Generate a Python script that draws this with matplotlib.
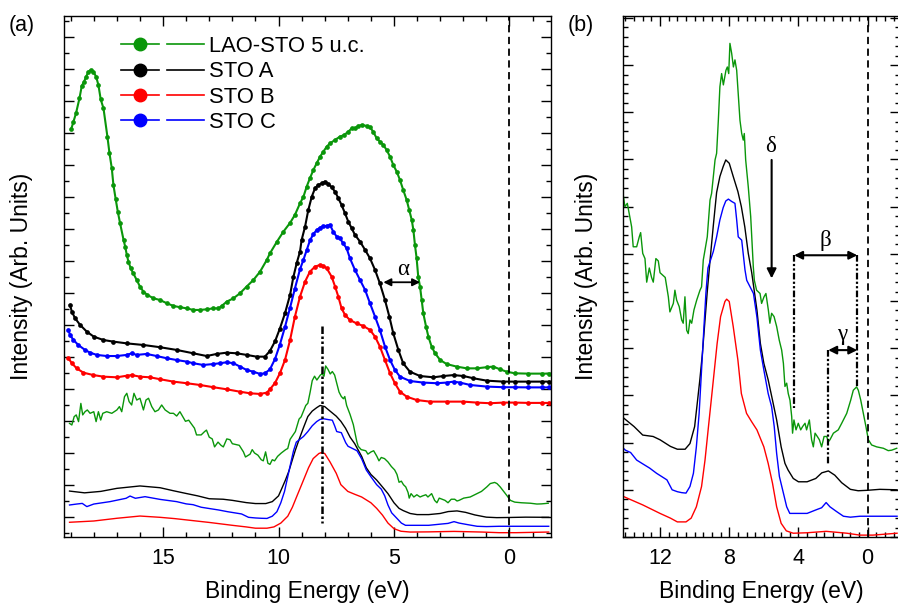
import matplotlib
matplotlib.use("Agg")
import matplotlib.pyplot as plt
import numpy as np
from matplotlib.lines import Line2D
from matplotlib.legend_handler import HandlerTuple
from matplotlib.ticker import MultipleLocator, NullFormatter

plt.rcParams['font.family'] = ['Liberation Sans', 'DejaVu Sans']
plt.rcParams['font.size'] = 15

GREEN = '#0a960a'
COLORS = [GREEN, 'black', 'red', 'blue']
NAMES = ['LAO-STO 5 u.c.', 'STO A', 'STO B', 'STO C']

# ---- upper spectra of panel (a), drawn with markers ----
e_top_lao = [18.98, 18.88, 18.77, 18.62, 18.52, 18.42, 18.33, 18.23, 18.13, 18.02, 17.90, 17.80,
             17.70, 17.58, 17.41, 17.32, 17.22, 17.15, 17.05, 16.96, 16.86, 16.71, 16.64, 16.57,
             16.50, 16.40, 16.29, 16.14, 16.00, 15.85, 15.68, 15.42, 15.13, 14.84, 14.55, 14.27,
             13.98, 13.69, 13.40, 13.11, 12.82, 12.60, 12.46, 12.24, 11.95, 11.67, 11.38, 11.09,
             10.80, 10.51, 10.37, 10.08, 9.79, 9.50, 9.29, 9.07, 8.92, 8.78, 8.64, 8.49, 8.35,
             8.20, 8.06, 7.91, 7.77, 7.56, 7.34, 7.16, 6.98, 6.83, 6.69, 6.54, 6.40, 6.18, 6.04,
             5.90, 5.75, 5.61, 5.46, 5.32, 5.17, 5.03, 4.88, 4.74, 4.60, 4.45, 4.34, 4.23, 4.16,
             4.09, 4.02, 3.95, 3.87, 3.80, 3.73, 3.61, 3.51, 3.37, 3.22, 3.00, 2.72, 2.29, 1.85,
             1.42, 0.99, 0.70, 0.41, 0.12, -0.24, -0.80, -1.40, -1.70]
top_lao = [24.25, 24.73, 25.25, 26.19, 26.96, 27.23, 27.54, 27.85, 27.96, 27.85, 27.54, 27.02,
           26.12, 25.56, 23.79, 22.75, 21.81, 20.77, 19.87, 19.10, 18.37, 17.33, 16.92, 16.40,
           15.98, 15.56, 15.25, 14.83, 14.42, 14.10, 13.90, 13.69, 13.58, 13.38, 13.21, 13.13,
           13.06, 12.96, 12.96, 13.00, 13.06, 13.06, 13.21, 13.48, 13.69, 14.00, 14.42, 14.83,
           15.35, 16.08, 16.50, 17.20, 17.85, 18.40, 18.90, 19.62, 20.04, 20.67, 21.19, 21.71,
           22.12, 22.54, 22.85, 23.17, 23.37, 23.58, 23.79, 23.89, 24.10, 24.31, 24.31, 24.46,
           24.52, 24.46, 24.38, 24.10, 23.69, 23.48, 23.27, 22.96, 22.54, 22.02, 21.60, 21.08,
           20.46, 19.83, 19.21, 18.58, 17.96, 17.00, 16.20, 15.04, 14.40, 13.58, 12.75, 11.91,
           11.29, 10.67, 10.25, 9.83, 9.58, 9.42, 9.31, 9.31, 9.38, 9.42, 9.25, 9.10, 9.00,
           8.98, 8.98, 8.98]

e_top_a = [19.03, 18.95, 18.81, 18.59, 18.30, 18.00, 17.58, 17.15, 16.57, 15.85, 15.13, 14.41,
           13.69, 13.11, 12.68, 12.24, 11.81, 11.38, 10.95, 10.59, 10.37, 10.15, 9.94, 9.72,
           9.50, 9.36, 9.21, 9.07, 9.00, 8.85, 8.71, 8.56, 8.42, 8.28, 8.13, 7.99, 7.84, 7.70,
           7.55, 7.41, 7.27, 7.12, 6.98, 6.83, 6.69, 6.47, 6.25, 6.04, 5.82, 5.61, 5.39, 5.20,
           5.03, 4.81, 4.60, 4.31, 3.87, 3.29, 2.86, 2.42, 1.99, 1.56, 0.98, 0.26, -0.24, -0.80,
           -1.40, -1.70]
top_a = [13.27, 12.85, 12.44, 12.02, 11.60, 11.29, 11.08, 10.98, 10.87, 10.77, 10.63, 10.46,
         10.25, 10.08, 10.21, 10.29, 10.25, 10.15, 10.04, 10.04, 10.40, 11.00, 11.80, 12.75,
         13.90, 15.00, 15.90, 16.60, 17.33, 18.17, 19.21, 20.04, 20.56, 20.77, 20.87, 20.98,
         20.83, 20.63, 20.35, 19.94, 19.52, 19.00, 18.48, 18.06, 17.65, 17.23, 16.71, 16.19,
         15.46, 14.62, 13.58, 12.54, 11.50, 10.46, 9.62, 9.10, 8.83, 8.75, 8.83, 8.89, 8.83,
         8.69, 8.54, 8.48, 8.48, 8.48, 8.48, 8.48]

e_top_b = [19.10, 18.95, 18.74, 18.45, 18.02, 17.58, 17.00, 16.57, 16.36, 16.00, 15.56, 15.13,
           14.55, 13.98, 13.40, 12.82, 12.24, 11.67, 11.23, 10.80, 10.51, 10.37, 10.15, 9.94,
           9.72, 9.50, 9.29, 9.07, 8.85, 8.64, 8.42, 8.20, 8.06, 7.91, 7.70, 7.55, 7.41, 7.27,
           7.12, 6.91, 6.62, 6.33, 6.04, 5.82, 5.61, 5.39, 5.17, 4.96, 4.74, 4.45, 4.02, 3.44,
           2.72, 1.99, 1.42, 0.84, 0.26, -0.24, -0.80, -1.40, -1.70]
top_b = [9.94, 9.63, 9.31, 9.04, 8.89, 8.79, 8.75, 8.85, 8.89, 8.79, 8.75, 8.63, 8.48, 8.38,
         8.27, 8.13, 8.00, 7.85, 7.75, 7.71, 7.79, 8.00, 8.40, 9.00, 9.83, 11.08, 12.54, 13.79,
         14.73, 15.35, 15.67, 15.77, 15.71, 15.56, 15.04, 14.42, 13.79, 13.06, 12.65, 12.33,
         12.12, 11.96, 11.71, 11.29, 10.67, 9.83, 9.00, 8.38, 7.85, 7.54, 7.33, 7.23, 7.23,
         7.23, 7.17, 7.13, 7.17, 7.17, 7.15, 7.15, 7.15]

e_top_c = [19.10, 19.03, 18.88, 18.67, 18.38, 18.16, 17.87, 17.44, 17.00, 16.57, 16.36, 16.14,
           15.71, 15.28, 14.84, 14.41, 13.98, 13.69, 13.26, 12.82, 12.53, 12.24, 11.95, 11.67,
           11.38, 11.09, 10.80, 10.59, 10.37, 10.15, 9.94, 9.72, 9.50, 9.29, 9.07, 8.92, 8.78,
           8.64, 8.49, 8.35, 8.20, 8.06, 7.92, 7.77, 7.63, 7.48, 7.34, 7.20, 7.05, 6.91, 6.69,
           6.47, 6.25, 6.04, 5.82, 5.61, 5.39, 5.17, 4.96, 4.74, 4.31, 3.73, 3.15, 2.72, 2.42,
           2.14, 1.70, 0.98, 0.26, -0.24, -0.80, -1.40, -1.70]
top_c = [11.71, 11.40, 11.08, 10.77, 10.46, 10.29, 10.15, 10.08, 10.08, 10.15, 10.25, 10.15,
         10.21, 10.08, 9.94, 9.83, 9.73, 9.63, 9.52, 9.58, 9.63, 9.69, 9.63, 9.42, 9.21, 9.10,
         8.96, 9.00, 9.25, 9.90, 10.80, 11.90, 13.10, 14.30, 15.50, 16.10, 16.70, 17.30, 17.70,
         17.95, 18.10, 18.20, 18.21, 18.27, 17.85, 17.54, 17.44, 17.12, 16.81, 16.20, 15.46,
         14.83, 14.21, 13.38, 12.54, 11.71, 10.67, 9.83, 9.21, 8.79, 8.52, 8.42, 8.38, 8.42,
         8.48, 8.42, 8.27, 8.17, 8.13, 8.13, 8.12, 8.12, 8.12]

# ---- valence band spectra, panel (b) units; panel (a) shows them one unit lower ----
e_low_lao = [19.05, 18.95, 18.85, 18.76, 18.66, 18.56, 18.48, 18.38, 18.28, 18.16, 18.00, 17.90,
             17.80, 17.70, 17.61, 17.44, 17.22, 17.00, 16.89, 16.79, 16.67, 16.57, 16.47, 16.36,
             16.26, 16.14, 16.00, 15.85, 15.74, 15.63, 15.49, 15.35, 15.20, 15.06, 14.91, 14.70,
             14.55, 14.41, 14.27, 14.03, 13.89, 13.64, 13.55, 13.35, 13.20, 13.12, 13.00, 12.87,
             12.77, 12.62, 12.49, 12.39, 12.24, 12.10, 12.00, 11.85, 11.70, 11.52, 11.43, 11.23,
             11.14, 11.04, 10.89, 10.75, 10.66, 10.56, 10.46, 10.37, 10.27, 10.17, 10.04, 9.88,
             9.69, 9.60, 9.50, 9.27, 9.11, 9.02, 8.82, 8.73, 8.63, 8.54, 8.44, 8.34, 8.19, 8.11,
             8.03, 7.96, 7.86, 7.76, 7.67, 7.57, 7.47, 7.38, 7.28, 7.19, 7.13, 7.05, 6.90, 6.84,
             6.76, 6.69, 6.61, 6.55, 6.42, 6.22, 6.13, 5.99, 5.88, 5.74, 5.65, 5.55, 5.41, 5.26,
             5.11, 4.97, 4.87, 4.78, 4.68, 4.59, 4.49, 4.39, 4.34, 4.26, 4.14, 4.01, 3.87, 3.76,
             3.62, 3.53, 3.37, 3.24, 3.14, 3.04, 2.91, 2.79, 2.66, 2.52, 2.37, 2.27, 2.18, 1.98,
             1.70, 1.50, 1.21, 0.98, 0.83, 0.64, 0.54, 0.40, 0.25, 0.10, -0.04, -0.23, -0.52,
             -0.91, -1.19, -1.39, -1.68]
low_lao = [6.87, 6.77, 7.29, 7.40, 6.98, 8.12, 7.40, 7.60, 7.71, 7.50, 7.60, 6.98, 7.60, 7.08,
           7.50, 7.60, 7.50, 7.71, 7.92, 7.60, 8.54, 8.75, 8.23, 8.02, 8.75, 8.33, 8.44, 7.71,
           8.33, 8.44, 7.92, 7.60, 7.71, 8.02, 7.71, 7.50, 7.50, 7.33, 7.60, 7.00, 7.07, 6.57,
           6.15, 6.15, 6.36, 6.45, 6.01, 5.90, 5.40, 5.70, 5.50, 5.40, 5.90, 5.85, 5.60, 5.55,
           5.50, 5.09, 4.77, 4.95, 5.23, 5.02, 4.88, 4.60, 4.53, 5.09, 4.38, 4.31, 4.60, 4.53,
           4.81, 5.02, 5.23, 5.30, 5.87, 6.36, 7.14, 7.28, 7.99, 8.13, 8.83, 9.54, 9.82, 9.58,
           9.89, 9.96, 9.82, 10.46, 10.25, 9.96, 10.11, 9.89, 9.33, 8.83, 8.55, 8.41, 8.55,
           7.99, 7.42, 7.14, 6.79, 6.29, 5.73, 5.44, 5.23, 5.16, 4.95, 5.09, 5.16, 4.81, 4.53,
           4.74, 4.67, 4.46, 4.17, 3.96, 3.68, 3.19, 3.26, 3.04, 2.90, 2.55, 2.20, 2.48, 2.27,
           2.41, 2.27, 2.34, 2.41, 2.27, 2.48, 2.06, 1.91, 2.20, 2.13, 2.06, 1.91, 2.13, 2.13,
           2.02, 2.06, 2.20, 2.27, 2.41, 2.62, 2.90, 3.11, 3.18, 3.11, 2.90, 2.62, 2.34, 2.06,
           1.95, 1.91, 1.88, 1.83, 1.84, 1.88]

e_low_a = [19.05, 18.40, 17.70, 17.00, 16.00, 15.13, 14.55, 14.00, 13.50, 13.00, 12.40, 12.00,
           11.40, 11.00, 10.55, 10.27, 10.00, 9.85, 9.70, 9.55, 9.40, 9.27, 9.10, 8.92, 8.73,
           8.54, 8.35, 8.20, 8.00, 7.77, 7.50, 7.30, 7.10, 6.90, 6.70, 6.40, 6.20, 6.00, 5.75,
           5.50, 5.26, 5.00, 4.78, 4.60, 4.30, 4.00, 3.50, 3.00, 2.65, 2.27, 1.90, 1.50, 1.00,
           0.55, 0.00, -0.70, -1.70]
low_a = [2.64, 2.53, 2.62, 2.81, 2.96, 2.85, 2.66, 2.49, 2.34, 2.16, 2.13, 2.06, 1.92, 1.86,
         1.86, 1.98, 2.34, 2.83, 3.33, 3.89, 4.60, 5.20, 5.90, 6.60, 7.30, 7.64, 7.85, 7.99,
         7.92, 7.64, 7.32, 7.00, 6.57, 6.01, 5.60, 4.81, 4.10, 3.68, 3.33, 2.90, 2.48, 1.91,
         1.56, 1.42, 1.24, 1.17, 1.17, 1.24, 1.36, 1.40, 1.31, 1.15, 1.01, 0.98, 0.99, 1.01,
         1.00]

e_low_b = [19.05, 18.00, 17.00, 16.00, 15.13, 14.50, 14.00, 13.00, 12.00, 11.40, 11.00, 10.50,
           10.20, 9.90, 9.60, 9.40, 9.20, 9.00, 8.70, 8.50, 8.25, 8.15, 8.00, 7.77, 7.50, 7.30,
           7.00, 6.70, 6.40, 6.00, 5.75, 5.50, 5.26, 5.00, 4.70, 4.30, 3.50, 2.40, 1.20, 0.45,
           -0.30, -1.70]
low_b = [0.69, 0.77, 0.94, 1.08, 1.00, 0.92, 0.84, 0.68, 0.50, 0.40, 0.32, 0.32, 0.40, 0.64,
         1.07, 1.63, 2.34, 3.04, 4.10, 4.67, 4.99, 5.04, 4.99, 4.46, 3.75, 3.04, 2.62, 2.44,
         2.27, 1.91, 1.56, 1.14, 0.64, 0.29, 0.13, 0.08, 0.09, 0.12, 0.08, 0.04, 0.04, 0.08]

e_low_c = [19.05, 18.74, 18.50, 18.30, 18.00, 17.30, 16.60, 16.43, 16.20, 15.78, 15.13, 14.41,
           14.00, 13.70, 13.35, 13.00, 12.60, 12.20, 11.90, 11.60, 11.30, 11.00, 10.75, 10.50,
           10.27, 10.07, 9.90, 9.74, 9.60, 9.46, 9.35, 9.23, 8.92, 8.73, 8.54, 8.35, 8.20, 8.05,
           7.86, 7.67, 7.57, 7.48, 7.28, 7.09, 6.99, 6.60, 6.40, 6.20, 6.00, 5.75, 5.55, 5.40,
           5.26, 5.10, 4.87, 4.68, 4.50, 4.10, 3.50, 2.95, 2.66, 2.40, 2.18, 1.80, 1.40, 1.00,
           0.44, -0.30, -1.70]
low_c = [1.77, 1.83, 1.87, 1.67, 1.83, 1.98, 2.19, 2.33, 2.19, 2.29, 2.12, 1.98, 1.84, 1.79,
         1.63, 1.55, 1.46, 1.35, 1.28, 1.21, 1.00, 0.96, 0.94, 0.93, 1.07, 1.35, 1.91, 2.62,
         3.54, 4.46, 5.16, 5.70, 6.05, 6.36, 6.72, 6.98, 7.12, 7.16, 7.11, 7.07, 6.72, 6.36,
         6.29, 5.66, 5.44, 5.16, 4.66, 3.96, 3.54, 3.04, 2.76, 2.34, 1.77, 1.28, 0.93, 0.64,
         0.50, 0.50, 0.50, 0.58, 0.62, 0.73, 0.64, 0.54, 0.44, 0.42, 0.44, 0.44, 0.44]

top_sets = [(e_top_lao, top_lao), (e_top_a, top_a), (e_top_b, top_b), (e_top_c, top_c)]
low_sets = [(e_low_lao, low_lao), (e_low_a, low_a), (e_low_b, low_b), (e_low_c, low_c)]
low_shift_a = -1.0

fig = plt.figure(figsize=(8.98, 6.03), dpi=100)
W, H = 898.0, 603.0
ax_a = fig.add_axes([64 / W, 1 - 537 / H, 487 / W, 521 / H])
ax_b = fig.add_axes([623 / W, 1 - 537 / H, 276.5 / W, 521 / H])

for (e, y), c in zip(top_sets, COLORS):
    ax_a.plot(e, y, color=c, lw=1.5, marker='o', ms=3.4, mew=0)
for (e, y), c in zip(low_sets, COLORS):
    ax_a.plot(e, np.array(y) + low_shift_a, color=c, lw=1.0)
    ax_b.plot(e, y, color=c, lw=1.0)

dashdot = (0, (3, 1, 1, 1, 1, 1))
for ax in (ax_a, ax_b):
    ax.axvline(0, color='black', lw=1.3, ls=(0, (4, 2.5)))

# panel (a) guides
ax_a.plot([8.13, 8.13], [11.96, -0.37], color='black', lw=1.8, ls=dashdot)
ax_a.annotate('', xy=(3.87, 14.69), xytext=(5.46, 14.69),
              arrowprops=dict(arrowstyle='<|-|>', color='black', lw=1.3,
                              mutation_scale=11, shrinkA=0, shrinkB=0))
greek = dict(family=['Liberation Serif', 'DejaVu Serif'], fontsize=16.5,
             ha='center', va='center')
ax_a.text(4.62, 15.46, 'α', **greek)

# panel (b) guides
ax_b.text(5.61, 8.27, 'δ', **greek)
ax_b.annotate('', xy=(5.55, 5.48), xytext=(5.55, 7.99),
              arrowprops=dict(arrowstyle='-|>', color='black', lw=1.5,
                              mutation_scale=14, shrinkA=0, shrinkB=0))
ax_b.text(2.45, 6.29, 'β', **greek)
ax_b.annotate('', xy=(0.6, 5.97), xytext=(4.25, 5.97),
              arrowprops=dict(arrowstyle='<|-|>', color='black', lw=1.5,
                              mutation_scale=12, shrinkA=0, shrinkB=0))
ax_b.plot([4.25, 4.25], [5.97, 2.73], color='black', lw=1.6, ls=dashdot)
ax_b.plot([0.6, 0.6], [5.97, 3.18], color='black', lw=1.6, ls=dashdot)
ax_b.text(1.45, 4.3, 'γ', **greek)
ax_b.annotate('', xy=(0.6, 3.96), xytext=(2.28, 3.96),
              arrowprops=dict(arrowstyle='<|-|>', color='black', lw=1.5,
                              mutation_scale=12, shrinkA=0, shrinkB=0))
ax_b.plot([2.28, 2.28], [3.96, 1.53], color='black', lw=1.6, ls=dashdot)

# axes, ticks, labels
ax_a.set_xlim(19.29, -1.80)
ax_a.set_ylim(-1.23, 31.33)
ax_a.set_xticks([15, 10, 5, 0])
ax_a.xaxis.set_minor_locator(MultipleLocator(1))
ax_a.yaxis.set_major_locator(MultipleLocator(2))
ax_a.yaxis.set_minor_locator(MultipleLocator(1))

ax_b.set_xlim(14.14, -1.84)
ax_b.set_ylim(0, 11.04)
ax_b.set_xticks([12, 8, 4, 0])
ax_b.xaxis.set_minor_locator(MultipleLocator(0.5))
ax_b.yaxis.set_major_locator(MultipleLocator(1))
ax_b.yaxis.set_minor_locator(MultipleLocator(0.2))

for ax in (ax_a, ax_b):
    ax.yaxis.set_major_formatter(NullFormatter())
    ax.tick_params(which='both', direction='in', top=True, right=True, width=1.0)
    ax.tick_params(which='major', length=7, pad=8, labelsize=15.5)
    ax.tick_params(which='minor', length=3.5)
    for s in ax.spines.values():
        s.set_linewidth(1.0)
    ax.set_xlabel('Binding Energy (eV)', labelpad=8, fontsize=16.5)
    ax.set_ylabel('Intensity (Arb. Units)', fontsize=16.5)

ax_a.yaxis.set_label_coords(-0.064, 0.5)
ax_b.yaxis.set_label_coords(-0.09, 0.5)

fig.text(9 / W, 1 - 26 / H, '(a)', ha='left', va='center', fontsize=15.5)
fig.text(568 / W, 1 - 26 / H, '(b)', ha='left', va='center', fontsize=15.5)

handles = [(Line2D([], [], color=c, lw=1.2, marker='o', ms=9),
            Line2D([], [], color=c, lw=1.2)) for c in COLORS]
ax_a.legend(handles, NAMES, handler_map={tuple: HandlerTuple(ndivide=None, pad=0.35)},
            handlelength=3.8, handletextpad=0.2, labelspacing=0.2, frameon=False,
            loc='upper left', bbox_to_anchor=(0.117, 0.962), borderpad=0,
            borderaxespad=0, fontsize=15.8)

fig.savefig('out.png', dpi=100)
